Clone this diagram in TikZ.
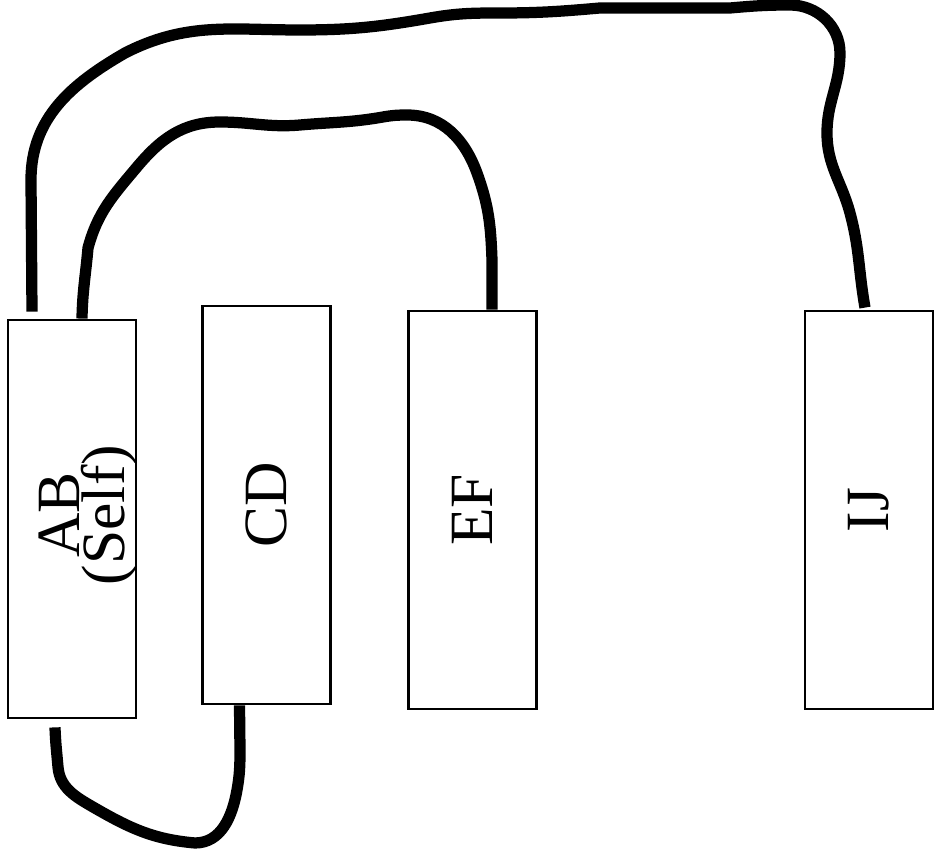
\documentclass[tikz,border=0pt]{standalone}
\usepackage{fontspec}
\setmainfont{Liberation Serif}
\usetikzlibrary{positioning}

\begin{document}
\begin{tikzpicture}[
    unit/.style={draw, line width=0.8pt, minimum width=1.28cm, minimum height=3.98cm, inner sep=0pt},
    tag/.style={rotate=90, inner sep=0pt, align=center, font=\fontsize{17.5}{12.8}\selectfont},
    cable/.style={line width=3.2pt, line join=round}]
  \useasboundingbox (0,0) rectangle (9.34,8.60);
  % the four units
  \node[unit] (ab) at (0.72,3.41) {};
  \node[unit] (cd) at (2.665,3.55) {};
  \node[unit] (ef) at (4.725,3.50) {};
  \node[unit] (ij) at (8.69,3.50) {};
  \node[tag] (abtxt) at ([xshift=0.16cm,yshift=0.04cm]ab.center) {AB\\(Self)};
  \node[tag] (cdtxt) at (cd.center) {CD};
  \node[tag] (eftxt) at (ef.center) {EF};
  \node[tag] (ijtxt) at (ij.center) {IJ};
  % cable ends
  \coordinate (ab-out) at ([xshift=-0.40cm,yshift=0.07cm]ab.north);
  \coordinate (ab-in) at ([xshift=0.10cm]ab.north);
  \coordinate (ab-bot) at ([xshift=-0.17cm,yshift=-0.08cm]ab.south);
  \coordinate (cd-bot) at ([xshift=-0.27cm]cd.south);
  \coordinate (ef-top) at ([xshift=0.195cm]ef.north);
  \coordinate (ij-top) at ([xshift=-0.04cm,yshift=0.02cm]ij.north);
  % AB to IJ, over the top
  \draw[cable] (ab-out) -- (0.31,6.8) to[out=90,in=-150] (1.25,8.07)
    to[out=27,in=180] (3.0,8.30) to[out=0,in=-170] (4.3,8.42)
    to[out=10,in=180] (5.0,8.47) to[out=0,in=185] (6.0,8.52)
    -- (7.3,8.52) to[out=5,in=180] (7.9,8.55) to[out=0,in=90] (8.40,8.07)
    to[out=-90,in=90] (8.27,7.27) to[out=-90,in=105] (8.50,6.47)
    to[out=-75,in=100] (ij-top);
  % AB to EF
  \draw[cable] (ab-in) to[out=89,in=-95] (0.88,6.12) to[out=75,in=-130] (1.37,6.93)
    to[out=50,in=180] (2.2,7.38) to[out=0,in=185] (3.0,7.35)
    to[out=5,in=190] (3.83,7.43) to[out=10,in=180] (4.07,7.45)
    to[out=0,in=110] (4.77,6.87) to[out=-70,in=92] (4.92,6.0) -- (ef-top);
  % AB to CD, underneath
  \draw[cable] (ab-bot) to[out=-88,in=95] (0.58,0.93) to[out=-85,in=150] (0.93,0.53)
    to[out=-30,in=175] (1.95,0.17) to[out=0,in=-100] (2.37,0.70)
    to[out=80,in=-90] (2.40,1.10) -- (cd-bot);
\end{tikzpicture}
\end{document}
